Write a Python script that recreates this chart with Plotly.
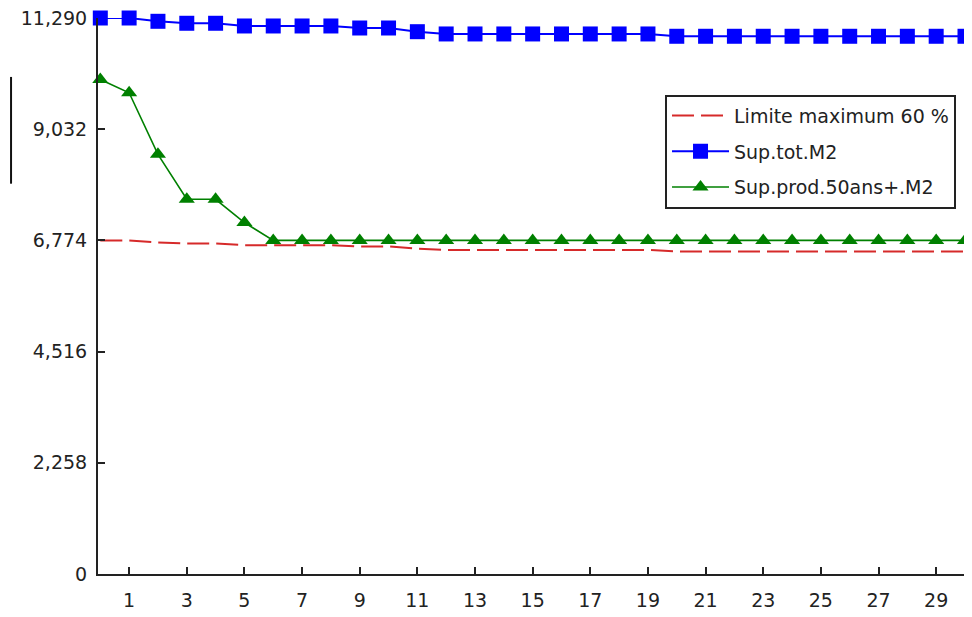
import plotly.graph_objects as go

# ---- data ----
x_vals = list(range(0, 31))
limite_60 = [6774, 6774, 6734, 6710, 6710, 6677, 6677, 6677, 6677, 6652, 6652, 6607,
             6580, 6580, 6580, 6580, 6580, 6580, 6580, 6580,
             6551, 6551, 6551, 6551, 6551, 6551, 6551, 6551, 6551, 6551, 6551]
sup_tot = [11290, 11290, 11223, 11183, 11183, 11128, 11128, 11128, 11128, 11087, 11087, 11012,
           10966, 10966, 10966, 10966, 10966, 10966, 10966, 10966,
           10919, 10919, 10919, 10919, 10919, 10919, 10919, 10919, 10919, 10919, 10919]
sup_prod = [10042, 9772, 8521, 7609, 7609, 7137, 6774, 6774, 6774, 6774, 6774, 6774,
            6774, 6774, 6774, 6774, 6774, 6774, 6774, 6774,
            6774, 6774, 6774, 6774, 6774, 6774, 6774, 6774, 6774, 6774, 6774]
names = ["Limite maximum 60 %", "Sup.tot.M2", "Sup.prod.50ans+.M2"]
y_tickvals = [0, 2258, 4516, 6774, 9032, 11290]
y_ticktext = ["0", "2,258", "4,516", "6,774", "9,032", "11,290"]
x_tickvals = list(range(1, 30, 2))

FONT = "DejaVu Sans"

fig = go.Figure()
fig.add_trace(go.Scatter(
    x=x_vals, y=limite_60, name=names[0], mode="lines",
    line=dict(color="#d62a2a", width=2, dash="22px,7px"),
    legendgroup="a", cliponaxis=False))
fig.add_trace(go.Scatter(
    x=x_vals, y=sup_tot, name=names[1], mode="lines+markers",
    line=dict(color="#0000ff", width=2),
    marker=dict(symbol="square", size=15, color="#0000ff"),
    legendgroup="b", cliponaxis=False))
fig.add_trace(go.Scatter(
    x=x_vals, y=sup_prod, name=names[2], mode="lines+markers",
    line=dict(color="#008000", width=1.6),
    marker=dict(symbol="triangle-up", size=14, color="#008000"),
    legendgroup="c", cliponaxis=False))

fig.update_layout(
    width=972, height=617,
    margin=dict(l=90, r=15, t=10, b=51, autoexpand=False),
    paper_bgcolor="white", plot_bgcolor="white",
    font=dict(family=FONT, size=19, color="#222222"),
    showlegend=True,
    legend=dict(
        x=0.654, y=0.862, xanchor="left", yanchor="top",
        bgcolor="white", bordercolor="#222222", borderwidth=2,
        font=dict(family=FONT, size=19, color="#222222"),
        traceorder="grouped", tracegroupgap=8, itemwidth=57,
        entrywidth=300, entrywidthmode="pixels",
    ),
    xaxis=dict(
        range=[-0.08, 30.0], tickmode="array", tickvals=x_tickvals,
        showgrid=False, zeroline=False, automargin=False,
        showline=True, linecolor="#222222", linewidth=2,
        ticks="inside", ticklen=7, tickwidth=1.5, tickcolor="#222222",
        ticklabelstandoff=8,
        tickfont=dict(family=FONT, size=19, color="#222222"),
    ),
    yaxis=dict(
        range=[0, 11290], tickmode="array", tickvals=y_tickvals, ticktext=y_ticktext,
        showgrid=False, zeroline=False, automargin=False,
        showline=True, linecolor="#222222", linewidth=2,
        ticks="inside", ticklen=7, tickwidth=1.5, tickcolor="#222222",
        ticklabelstandoff=5, ticklabeloverflow="allow",
        tickfont=dict(family=FONT, size=19, color="#222222"),
    ),
    shapes=[dict(type="line", xref="paper", yref="paper",
                 x0=-0.1003, x1=-0.1003, y0=0.702, y1=0.894,
                 line=dict(color="#111111", width=2))],
)

fig.write_html("out.html")
